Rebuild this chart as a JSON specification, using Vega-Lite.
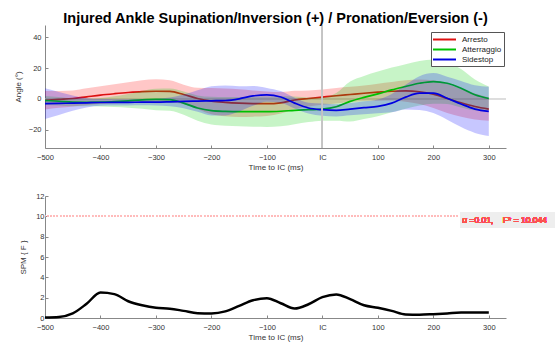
{
  "$schema": "https://vega.github.io/schema/vega-lite/v6.json",
  "padding": {"left": 14, "top": 11, "right": 0, "bottom": 0},
  "background": "white",
  "config": {
    "view": {"stroke": null},
    "font": "Liberation Sans",
    "axis": {
      "labelFont": "Liberation Sans", "labelFontSize": 7.5, "labelColor": "#333",
      "titleFont": "Liberation Sans", "titleFontSize": 8, "titleFontWeight": "normal", "titleColor": "#333",
      "domainColor": "#888", "tickColor": "#888", "tickSize": -3, "grid": false, "labelOverlap": false
    },
    "legend": {
      "labelFont": "Liberation Sans", "labelFontSize": 8, "labelColor": "#222"
    }
  },
  "datasets": {
    "angle": [
      {"s":"Arresto","t":-500,"m":-1.0,"lo":-7.0,"hi":5.0},
      {"s":"Arresto","t":-475,"m":-0.4,"lo":-5.9,"hi":5.1},
      {"s":"Arresto","t":-450,"m":0.2,"lo":-5.0,"hi":5.4},
      {"s":"Arresto","t":-425,"m":1.3,"lo":-4.2,"hi":6.8},
      {"s":"Arresto","t":-400,"m":2.4,"lo":-3.4,"hi":8.2},
      {"s":"Arresto","t":-375,"m":3.3,"lo":-2.9,"hi":9.5},
      {"s":"Arresto","t":-350,"m":4.1,"lo":-2.5,"hi":10.7},
      {"s":"Arresto","t":-325,"m":4.7,"lo":-2.6,"hi":12.0},
      {"s":"Arresto","t":-300,"m":4.9,"lo":-2.9,"hi":12.7},
      {"s":"Arresto","t":-275,"m":4.8,"lo":-2.4,"hi":12.0},
      {"s":"Arresto","t":-250,"m":2.8,"lo":-3.6,"hi":9.2},
      {"s":"Arresto","t":-225,"m":0.2,"lo":-6.8,"hi":7.2},
      {"s":"Arresto","t":-200,"m":-1.5,"lo":-10.0,"hi":7.0},
      {"s":"Arresto","t":-175,"m":-2.3,"lo":-11.3,"hi":6.7},
      {"s":"Arresto","t":-150,"m":-2.8,"lo":-11.8,"hi":6.2},
      {"s":"Arresto","t":-125,"m":-3.1,"lo":-11.6,"hi":5.4},
      {"s":"Arresto","t":-100,"m":-3.2,"lo":-11.2,"hi":4.8},
      {"s":"Arresto","t":-75,"m":-2.6,"lo":-9.6,"hi":4.4},
      {"s":"Arresto","t":-50,"m":-0.8,"lo":-6.8,"hi":5.2},
      {"s":"Arresto","t":-25,"m":0.2,"lo":-5.0,"hi":5.4},
      {"s":"Arresto","t":0,"m":1.1,"lo":-3.9,"hi":6.1},
      {"s":"Arresto","t":25,"m":2.0,"lo":-3.0,"hi":7.0},
      {"s":"Arresto","t":50,"m":2.8,"lo":-2.2,"hi":7.8},
      {"s":"Arresto","t":75,"m":3.6,"lo":-1.4,"hi":8.6},
      {"s":"Arresto","t":100,"m":4.3,"lo":-1.2,"hi":9.8},
      {"s":"Arresto","t":125,"m":4.9,"lo":-1.1,"hi":10.9},
      {"s":"Arresto","t":150,"m":5.1,"lo":-1.9,"hi":12.1},
      {"s":"Arresto","t":175,"m":4.6,"lo":-3.4,"hi":12.6},
      {"s":"Arresto","t":200,"m":3.0,"lo":-6.0,"hi":12.0},
      {"s":"Arresto","t":225,"m":0.2,"lo":-9.3,"hi":9.7},
      {"s":"Arresto","t":250,"m":-2.6,"lo":-11.6,"hi":6.4},
      {"s":"Arresto","t":275,"m":-5.0,"lo":-13.5,"hi":3.5},
      {"s":"Arresto","t":300,"m":-6.7,"lo":-14.2,"hi":0.8},
      {"s":"Atterraggio","t":-500,"m":-1.1,"lo":-4.1,"hi":1.9},
      {"s":"Atterraggio","t":-475,"m":-1.6,"lo":-4.4,"hi":1.2},
      {"s":"Atterraggio","t":-450,"m":-2.2,"lo":-4.8,"hi":0.4},
      {"s":"Atterraggio","t":-425,"m":-2.3,"lo":-4.8,"hi":0.2},
      {"s":"Atterraggio","t":-400,"m":-2.2,"lo":-5.0,"hi":0.6},
      {"s":"Atterraggio","t":-375,"m":-1.8,"lo":-5.3,"hi":1.7},
      {"s":"Atterraggio","t":-350,"m":-1.3,"lo":-5.8,"hi":3.2},
      {"s":"Atterraggio","t":-325,"m":-0.7,"lo":-6.5,"hi":5.1},
      {"s":"Atterraggio","t":-300,"m":-0.4,"lo":-7.4,"hi":6.6},
      {"s":"Atterraggio","t":-275,"m":-0.5,"lo":-7.7,"hi":6.7},
      {"s":"Atterraggio","t":-250,"m":-2.8,"lo":-10.3,"hi":4.7},
      {"s":"Atterraggio","t":-225,"m":-6.0,"lo":-14.2,"hi":2.2},
      {"s":"Atterraggio","t":-200,"m":-7.7,"lo":-16.7,"hi":1.3},
      {"s":"Atterraggio","t":-175,"m":-8.2,"lo":-17.5,"hi":1.1},
      {"s":"Atterraggio","t":-150,"m":-8.4,"lo":-17.9,"hi":1.1},
      {"s":"Atterraggio","t":-125,"m":-8.4,"lo":-18.2,"hi":1.4},
      {"s":"Atterraggio","t":-100,"m":-8.4,"lo":-18.3,"hi":1.5},
      {"s":"Atterraggio","t":-75,"m":-8.1,"lo":-17.9,"hi":1.7},
      {"s":"Atterraggio","t":-50,"m":-7.5,"lo":-16.5,"hi":1.5},
      {"s":"Atterraggio","t":-25,"m":-7.1,"lo":-15.1,"hi":0.9},
      {"s":"Atterraggio","t":0,"m":-6.7,"lo":-14.2,"hi":0.8},
      {"s":"Atterraggio","t":25,"m":-5.2,"lo":-14.2,"hi":3.8},
      {"s":"Atterraggio","t":50,"m":-1.7,"lo":-14.7,"hi":11.3},
      {"s":"Atterraggio","t":75,"m":0.9,"lo":-13.1,"hi":14.9},
      {"s":"Atterraggio","t":100,"m":3.2,"lo":-11.3,"hi":17.7},
      {"s":"Atterraggio","t":125,"m":5.8,"lo":-8.7,"hi":20.3},
      {"s":"Atterraggio","t":150,"m":8.0,"lo":-6.5,"hi":22.5},
      {"s":"Atterraggio","t":175,"m":10.1,"lo":-4.4,"hi":24.6},
      {"s":"Atterraggio","t":200,"m":11.2,"lo":-3.2,"hi":25.6},
      {"s":"Atterraggio","t":225,"m":10.1,"lo":-3.4,"hi":23.6},
      {"s":"Atterraggio","t":250,"m":6.9,"lo":-5.6,"hi":19.4},
      {"s":"Atterraggio","t":275,"m":2.6,"lo":-7.4,"hi":12.6},
      {"s":"Atterraggio","t":300,"m":0.2,"lo":-7.6,"hi":8.0},
      {"s":"Sidestop","t":-500,"m":-3.2,"lo":-13.2,"hi":6.8},
      {"s":"Sidestop","t":-475,"m":-3.0,"lo":-10.5,"hi":4.5},
      {"s":"Sidestop","t":-450,"m":-2.8,"lo":-7.8,"hi":2.2},
      {"s":"Sidestop","t":-425,"m":-2.6,"lo":-5.6,"hi":0.4},
      {"s":"Sidestop","t":-400,"m":-2.4,"lo":-4.6,"hi":-0.2},
      {"s":"Sidestop","t":-375,"m":-2.3,"lo":-4.3,"hi":-0.3},
      {"s":"Sidestop","t":-350,"m":-2.3,"lo":-4.3,"hi":-0.3},
      {"s":"Sidestop","t":-325,"m":-2.2,"lo":-4.2,"hi":-0.2},
      {"s":"Sidestop","t":-300,"m":-2.2,"lo":-4.4,"hi":0.0},
      {"s":"Sidestop","t":-275,"m":-2.0,"lo":-4.8,"hi":0.8},
      {"s":"Sidestop","t":-250,"m":-1.7,"lo":-6.2,"hi":2.8},
      {"s":"Sidestop","t":-225,"m":-1.5,"lo":-8.5,"hi":5.5},
      {"s":"Sidestop","t":-200,"m":-1.3,"lo":-10.8,"hi":8.2},
      {"s":"Sidestop","t":-175,"m":-1.1,"lo":-10.8,"hi":8.6},
      {"s":"Sidestop","t":-150,"m":0.0,"lo":-8.2,"hi":8.2},
      {"s":"Sidestop","t":-125,"m":1.9,"lo":-4.6,"hi":8.4},
      {"s":"Sidestop","t":-100,"m":2.6,"lo":-1.9,"hi":7.1},
      {"s":"Sidestop","t":-75,"m":1.2,"lo":-2.6,"hi":5.0},
      {"s":"Sidestop","t":-50,"m":-2.8,"lo":-6.3,"hi":0.7},
      {"s":"Sidestop","t":-25,"m":-6.0,"lo":-9.5,"hi":-2.5},
      {"s":"Sidestop","t":0,"m":-7.1,"lo":-11.1,"hi":-3.1},
      {"s":"Sidestop","t":25,"m":-7.5,"lo":-11.5,"hi":-3.5},
      {"s":"Sidestop","t":50,"m":-6.7,"lo":-10.7,"hi":-2.7},
      {"s":"Sidestop","t":75,"m":-5.8,"lo":-10.0,"hi":-1.6},
      {"s":"Sidestop","t":100,"m":-4.9,"lo":-9.4,"hi":-0.4},
      {"s":"Sidestop","t":125,"m":-2.8,"lo":-8.8,"hi":3.2},
      {"s":"Sidestop","t":150,"m":1.1,"lo":-6.9,"hi":9.1},
      {"s":"Sidestop","t":175,"m":3.7,"lo":-7.3,"hi":14.7},
      {"s":"Sidestop","t":200,"m":3.7,"lo":-9.3,"hi":16.7},
      {"s":"Sidestop","t":225,"m":0.4,"lo":-13.6,"hi":14.4},
      {"s":"Sidestop","t":250,"m":-3.4,"lo":-18.4,"hi":11.6},
      {"s":"Sidestop","t":275,"m":-6.7,"lo":-22.2,"hi":8.8},
      {"s":"Sidestop","t":300,"m":-8.2,"lo":-24.2,"hi":7.8}
    ],
    "spm": [
      {"t":-500,"f":0.05},{"t":-475,"f":0.1},{"t":-450,"f":0.45},{"t":-425,"f":1.4},
      {"t":-400,"f":2.5},{"t":-375,"f":2.35},{"t":-350,"f":1.65},{"t":-325,"f":1.25},
      {"t":-300,"f":1.0},{"t":-275,"f":0.92},{"t":-250,"f":0.7},{"t":-225,"f":0.47},
      {"t":-200,"f":0.45},{"t":-175,"f":0.65},{"t":-150,"f":1.2},{"t":-125,"f":1.75},
      {"t":-100,"f":1.95},{"t":-75,"f":1.45},{"t":-50,"f":0.93},{"t":-25,"f":1.35},
      {"t":0,"f":2.05},{"t":25,"f":2.32},{"t":50,"f":1.85},{"t":75,"f":1.25},
      {"t":100,"f":1.0},{"t":125,"f":0.7},{"t":150,"f":0.35},{"t":175,"f":0.33},
      {"t":200,"f":0.38},{"t":225,"f":0.45},{"t":250,"f":0.53},{"t":275,"f":0.53},
      {"t":300,"f":0.53}
    ]
  },
  "spacing": 20,
  "vconcat": [
    {
      "width": 461,
      "height": 123,
      "title": {"text": "Injured Ankle Supination/Inversion (+) / Pronation/Eversion (-)", "font": "Liberation Sans", "fontSize": 14.5, "fontWeight": "bold", "color": "#000", "anchor": "middle", "offset": -2},
      "data": {"name": "angle"},
      "encoding": {
        "x": {"field": "t", "type": "quantitative",
              "scale": {"domain": [-500, 331], "nice": false, "zero": false},
              "axis": {"values": [-500,-400,-300,-200,-100,0,100,200,300], "labelExpr": "datum.value == 0 ? 'IC' : datum.label", "title": "Time to IC (ms)", "labelPadding": 8, "titlePadding": 3, "labelFlush": false, "labelOverlap": false}}
      },
      "layer": [
        {"mark": {"type": "rule", "color": "#dddddd", "strokeWidth": 1}, "encoding": {"y": {"datum": 0, "type": "quantitative"}, "x": null}},
        {"transform": [{"filter": "datum.s == 'Arresto'"}], "mark": {"type": "area", "color": "#ff0000", "opacity": 0.22, "interpolate": "monotone"},
         "encoding": {"y": {"field": "lo", "type": "quantitative"}, "y2": {"field": "hi"}}},
        {"transform": [{"filter": "datum.s == 'Arresto'"}], "mark": {"type": "line", "strokeWidth": 1.7, "interpolate": "monotone"},
         "encoding": {"y": {"field": "m", "type": "quantitative"}, "color": {"field": "s", "type": "nominal"}}},
        {"transform": [{"filter": "datum.s == 'Atterraggio'"}], "mark": {"type": "area", "color": "#00cc00", "opacity": 0.22, "interpolate": "monotone"},
         "encoding": {"y": {"field": "lo", "type": "quantitative"}, "y2": {"field": "hi"}}},
        {"transform": [{"filter": "datum.s == 'Atterraggio'"}], "mark": {"type": "line", "strokeWidth": 1.7, "interpolate": "monotone"},
         "encoding": {"y": {"field": "m", "type": "quantitative"}, "color": {"field": "s", "type": "nominal"}}},
        {"transform": [{"filter": "datum.s == 'Sidestop'"}], "mark": {"type": "area", "color": "#0000ff", "opacity": 0.22, "interpolate": "monotone"},
         "encoding": {"y": {"field": "lo", "type": "quantitative"}, "y2": {"field": "hi"}}},
        {"transform": [{"filter": "datum.s == 'Sidestop'"}], "mark": {"type": "line", "strokeWidth": 1.7, "interpolate": "monotone"},
         "encoding": {"y": {"field": "m", "type": "quantitative",
                            "scale": {"domain": [-32, 48], "nice": false, "zero": false},
                            "axis": {"values": [-20, 0, 20, 40], "title": "Angle (°)", "labelPadding": 7, "titlePadding": 6, "labelOverlap": false}},
                      "color": {"field": "s", "type": "nominal",
                                "scale": {"domain": ["Arresto", "Atterraggio", "Sidestop"], "range": ["#dd1111", "#00c000", "#0000e0"]},
                                "legend": {"title": null, "orient": "none", "legendX": 386, "legendY": 7, "fillColor": "white", "strokeColor": "#555", "padding": 2, "rowPadding": 0, "symbolType": "M-2.75,0H2.75", "symbolSize": 70, "symbolStrokeWidth": 2, "symbolOffset": 6, "labelOffset": 12}}}},
        {"mark": {"type": "rule", "color": "#c4c4c4", "strokeWidth": 1}, "encoding": {"x": {"datum": 0, "type": "quantitative"}}}
      ]
    },
    {
      "width": 461,
      "height": 122,
      "data": {"name": "spm"},
      "encoding": {
        "x": {"field": "t", "type": "quantitative",
              "scale": {"domain": [-500, 331], "nice": false, "zero": false},
              "axis": {"values": [-500,-400,-300,-200,-100,0,100,200,300], "labelExpr": "datum.value == 0 ? 'IC' : datum.label", "title": "Time to IC (ms)", "labelPadding": 8, "titlePadding": 3, "labelFlush": false, "labelOverlap": false}}
      },
      "layer": [
        {"mark": {"type": "line", "color": "black", "strokeWidth": 2.5, "interpolate": "monotone"},
         "encoding": {"y": {"field": "f", "type": "quantitative",
                            "scale": {"domain": [0, 12], "nice": false, "zero": false},
                            "axis": {"values": [0, 2, 4, 6, 8, 10, 12], "title": "SPM { F }", "labelPadding": 4, "titlePadding": 8, "labelOverlap": false, "tickCount": 7}}}},
        {"mark": {"type": "rule", "color": "#ffbcbc", "strokeWidth": 0.6, "strokeDash": [1.2, 2]}, "encoding": {"y": {"datum": 10.044, "type": "quantitative"}, "x": null}},
        {"mark": {"type": "rect", "color": "#eeeeee"}, "encoding": {"x": {"datum": 248, "type": "quantitative"}, "x2": {"datum": 419}, "y": {"datum": 10.37, "type": "quantitative"}, "y2": {"datum": 8.88}}},
        {"mark": {"type": "text", "color": "#ff5050", "font": "Liberation Sans", "fontSize": 8.5, "fontWeight": "normal", "align": "left", "baseline": "middle"},
         "encoding": {"x": {"datum": 252, "type": "quantitative"}, "y": {"datum": 9.65, "type": "quantitative"}, "text": {"value": "α\u00a0=0.01,\u00a0\u00a0\u00a0\u00a0F* = 10.044"}}}
      ]
    }
  ]
}
